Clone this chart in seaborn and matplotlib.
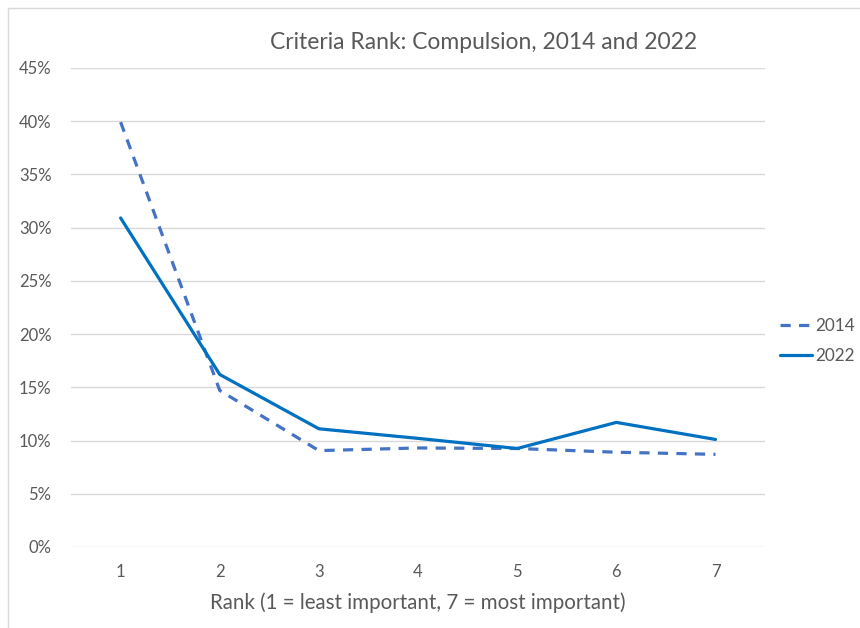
import matplotlib
matplotlib.use("Agg")
import matplotlib.pyplot as plt
import matplotlib.lines as mlines
import seaborn as sns
import pandas as pd
from matplotlib.ticker import PercentFormatter

ranks = [1, 2, 3, 4, 5, 6, 7]
share_2014 = [39.9, 14.7, 9.05, 9.3, 9.25, 8.9, 8.7]
share_2022 = [30.9, 16.2, 11.1, 10.2, 9.25, 11.7, 10.1]
years = ["2014", "2022"]
y_ticks = [0, 5, 10, 15, 20, 25, 30, 35, 40, 45]

df = pd.DataFrame({
    "Rank": ranks * 2,
    "Share": share_2014 + share_2022,
    "Year": ["2014"] * len(ranks) + ["2022"] * len(ranks),
})

sns.set_theme(style="white")
plt.rcParams["font.family"] = ["Lato", "DejaVu Sans"]
text_gray = "#595959"
palette = {"2014": "#4472C4", "2022": "#0070C0"}

fig = plt.figure(figsize=(8.6, 6.28), dpi=100)
ax = fig.add_axes([0.0826, 0.129, 0.807, 0.763])

sns.lineplot(data=df, x="Rank", y="Share", hue="Year", style="Year",
             palette=palette, dashes={"2014": (3.2, 2.6), "2022": ""},
             linewidth=2.3, ax=ax, legend=False)

ax.set_xlim(0.5, 7.5)
ax.set_ylim(0, 45)
ax.set_xticks(ranks)
ax.set_xticklabels([str(r) for r in ranks])
ax.set_yticks(y_ticks)
ax.yaxis.set_major_formatter(PercentFormatter(decimals=0))
ax.grid(axis="y", color="#d9d9d9", linewidth=1)
ax.grid(axis="x", visible=False)
for s in ax.spines.values():
    s.set_visible(False)
ax.tick_params(axis="both", length=0, labelsize=12, colors=text_gray)
ax.tick_params(axis="y", pad=14)
ax.tick_params(axis="x", pad=12)
ax.set_ylabel("")
ax.set_xlabel("Rank (1 = least important, 7 = most important)",
              fontsize=14.8, color=text_gray, labelpad=9)

fig.text(0.562, 0.933, "Criteria Rank: Compulsion, 2014 and 2022",
         ha="center", va="center", fontsize=16.5, color=text_gray)

handles = [
    mlines.Line2D([], [], color=palette["2014"], lw=2.3, dashes=(3.2, 2.6)),
    mlines.Line2D([], [], color=palette["2022"], lw=2.3),
]
leg = fig.legend(handles, years, loc="center left", bbox_to_anchor=(0.899, 0.457),
                 frameon=False, fontsize=12.3, handlelength=1.85, handletextpad=0.2,
                 labelspacing=0.85, labelcolor=text_gray, borderaxespad=0)

# thin outline along the top and left edges of the chart area
fig.add_artist(mlines.Line2D([0.0093, 1.0], [0.987, 0.987], transform=fig.transFigure,
                             color="#d9d9d9", lw=1))
fig.add_artist(mlines.Line2D([0.0093, 0.0093], [0.0, 0.987], transform=fig.transFigure,
                             color="#d9d9d9", lw=1))

fig.savefig("out.png", dpi=100, facecolor="white")
